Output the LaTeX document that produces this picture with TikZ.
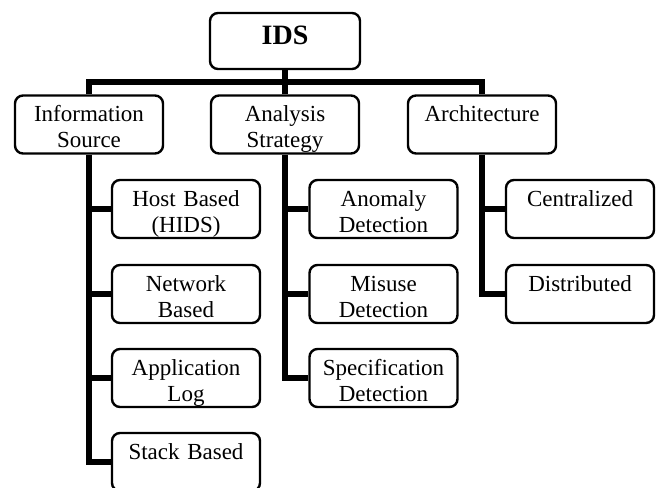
\documentclass[tikz,border=0pt]{standalone}
\usepackage{fontspec}
\setmainfont{Liberation Serif}
\usepackage{tikz}
\tikzset{font=\fontsize{23}{26}\selectfont,
  box/.style={draw,rounded corners=8pt,line width=2.4pt,fill=white,
    minimum width=148pt,minimum height=58pt,inner sep=0pt,
    text width=146pt,align=center,text height=25pt,text depth=31pt},
  root/.style={draw,rounded corners=8pt,line width=2.4pt,fill=white,
    minimum width=150pt,minimum height=56pt,inner sep=0pt,
    text height=18pt,text depth=10pt,font=\fontsize{28}{30}\selectfont\bfseries},
  link/.style={line width=6.5pt,line join=miter}}

\begin{document}
\begin{tikzpicture}[x=1pt,y=-1pt]
\useasboundingbox (0,0) rectangle (660,487);
\node[root] (ids) at (285,41) {IDS};
\node[box] (info) at (89,124.5) {Information\\Source};
\node[box] (strat) at (285,124.5) {Analysis\\Strategy};
\node[box] (arch) at (482,124.5) {Architecture};
\node[box] (host) at (186,209) {Host Based\\(HIDS)};
\node[box] (net) at (186,294) {Network\\Based};
\node[box] (app) at (186,378) {Application\\Log};
\node[box] (stack) at (186,462) {Stack Based};
\node[box] (anom) at (383.5,209) {Anomaly\\Detection};
\node[box] (misuse) at (383.5,294) {Misuse\\Detection};
\node[box] (spec) at (383.5,378) {Specification\\Detection};
\node[box] (central) at (580,209) {Centralized};
\node[box] (distr) at (580,294) {Distributed};
\coordinate (bar) at (285,82);
\draw[link] (ids.south) -- (ids |- bar);
\draw[link] (info.north) -- (info |- bar) -- (arch |- bar) -- (arch.north);
\draw[link] (strat.north) -- (strat |- bar);
\draw[link] (info.south) |- (stack.west);
\draw[link] (info |- host) -- (host.west);
\draw[link] (info |- net) -- (net.west);
\draw[link] (info |- app) -- (app.west);
\draw[link] (strat.south) |- (spec.west);
\draw[link] (strat |- anom) -- (anom.west);
\draw[link] (strat |- misuse) -- (misuse.west);
\draw[link] (arch.south) |- (distr.west);
\draw[link] (arch |- central) -- (central.west);
\end{tikzpicture}
\end{document}
